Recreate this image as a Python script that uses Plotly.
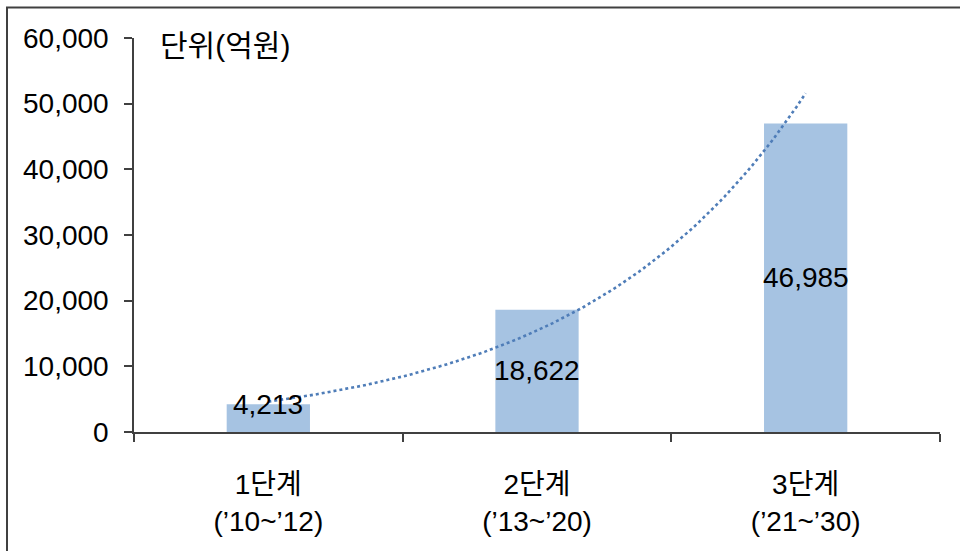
import numpy as np
import plotly.graph_objects as go

# Investment by stage (unit: 100 million KRW)
stages = ["1단계<br>(’10~’12)", "2단계<br>(’13~’20)", "3단계<br>(’21~’30)"]
amounts = [4213, 18622, 46985]
y_ticks = [0, 10000, 20000, 30000, 40000, 50000, 60000]
unit_label = "단위(억원)"

FONT = "Liberation Sans, Arial, Noto Sans CJK KR, sans-serif"
BAR_COLOR = "#A6C3E2"
TREND_COLOR = "#4F7DB8"
AXIS_COLOR = "#404040"

# Exponential trend line fitted through the stage totals
idx = np.arange(len(amounts))
slope, intercept = np.polyfit(idx, np.log(amounts), 1)
trend_x = np.linspace(0, len(amounts) - 1, 120)
trend_y = np.exp(intercept + slope * trend_x)

fig = go.Figure()
fig.add_trace(go.Bar(
    x=stages, y=amounts, marker=dict(color=BAR_COLOR, line=dict(width=0)),
    width=0.31, hoverinfo="skip", showlegend=False,
))
fig.add_trace(go.Scatter(
    x=trend_x, y=trend_y, xaxis="x2", mode="lines",
    line=dict(color=TREND_COLOR, width=2.6, dash="dot"),
    hoverinfo="skip", showlegend=False,
))

# Value labels: centred in the bar, or at the top of short bars
for s, v in zip(stages, amounts):
    ly = v / 2 if v > 10000 else v
    fig.add_annotation(x=s, y=ly, text=f"{v:,}", showarrow=False,
                       font=dict(family=FONT, size=28, color="#000"),
                       xanchor="center", yanchor="middle")

fig.add_annotation(xref="paper", yref="paper", x=(158 - 134) / 806,
                   y=(432 - 45) / 394, text=unit_label, showarrow=False,
                   xanchor="left", yanchor="middle",
                   font=dict(family=FONT, size=30, color="#000"))

# Outer frame (top and left edges visible)
fig.add_shape(type="rect", xref="paper", yref="paper",
              x0=(7 - 134) / 806, x1=(975 - 134) / 806,
              y0=(432 - 570) / 394, y1=(432 - 7.5) / 394,
              line=dict(color=AXIS_COLOR, width=2), layer="above")

fig.update_layout(
    width=960, height=551,
    margin=dict(l=134, r=20, t=38, b=119),
    paper_bgcolor="white", plot_bgcolor="white",
    font=dict(family=FONT, size=28, color="#000"),
    bargap=0.69,
    xaxis=dict(
        type="category", range=[-0.5, 2.5],
        showline=True, linecolor=AXIS_COLOR, linewidth=1.5,
        ticks="outside", ticklen=8, tickcolor=AXIS_COLOR, tickwidth=1.5,
        tickson="boundaries", ticklabelstandoff=27,
        tickfont=dict(family=FONT, size=28, color="#000"),
        showgrid=False, zeroline=False,
    ),
    xaxis2=dict(overlaying="x", range=[-0.5, 2.5], visible=False),
    yaxis=dict(
        range=[0, 60000], tickvals=y_ticks, tickformat=",d",
        showline=True, linecolor=AXIS_COLOR, linewidth=1.5,
        ticks="outside", ticklen=8, tickcolor=AXIS_COLOR, tickwidth=1.5,
        ticklabelstandoff=10,
        tickfont=dict(family=FONT, size=28, color="#000"),
        showgrid=False, zeroline=False,
    ),
)

fig.write_html("out.html")
